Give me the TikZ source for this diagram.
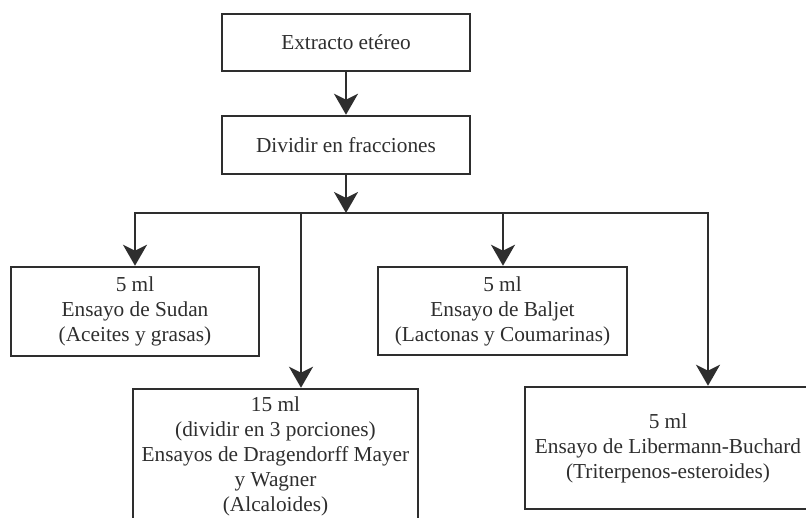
\documentclass[tikz,border=0pt]{standalone}
\usepackage{fontspec}
\setmainfont{Liberation Serif}
\usetikzlibrary{arrows.meta}
\definecolor{ink}{HTML}{2E2E2E}
\definecolor{txt}{HTML}{2E2E2E}
\tikzset{
  box/.style={draw=ink, line width=2.5pt, rectangle, inner sep=0pt, align=center,
    text=txt, font=\fontsize{21.3}{25}\selectfont},
  link/.style={draw=ink, line width=2.4pt},
  arr/.style={link, -{Stealth[length=21pt, width=24pt, inset=6pt]}}
}
\begin{document}
\begin{tikzpicture}[x=1pt, y=-1pt]
\useasboundingbox (0,0) rectangle (806,517);
\clip (0,0) rectangle (806,517);
\node[box, minimum width=248pt, minimum height=57pt] (ext) at (346,42.5) {Extracto etéreo};
\node[box, minimum width=248pt, minimum height=58pt] (div) at (346,145) {Dividir en fracciones};
\node[box, minimum width=248pt, minimum height=89pt] (sud) at (135,311.5) {5 ml\\Ensayo de Sudan\\(Aceites y grasas)};
\node[box, minimum width=249pt, minimum height=88pt] (bal) at (502.5,311) {5 ml\\Ensayo de Baljet\\(Lactonas y Coumarinas)};
\node[box, minimum width=285pt, minimum height=134pt] (dra) at (275.5,456) {15 ml\\(dividir en 3 porciones)\\Ensayos de Dragendorff Mayer\\y Wagner\\(Alcaloides)};
\node[box, minimum width=286pt, minimum height=122pt] (lib) at (668,448) {5 ml\\Ensayo de Libermann-Buchard\\(Triterpenos-esteroides)};
\coordinate (busc) at (346,213);
\coordinate (busl) at (135,213);
\coordinate (busd) at (301,213);
\coordinate (busb) at (503,213);
\coordinate (busr) at (708,213);
\draw[arr] (ext.south) -- (div.north);
\draw[arr] (div.south) -- (busc);
\draw[link, line cap=rect] (busl) -- (busr);
\draw[arr] (busl) -- (busl |- sud.north);
\draw[arr] (busd) -- (busd |- dra.north);
\draw[arr] (busb) -- (busb |- bal.north);
\draw[arr] (busr) -- (busr |- lib.north);
\end{tikzpicture}
\end{document}
